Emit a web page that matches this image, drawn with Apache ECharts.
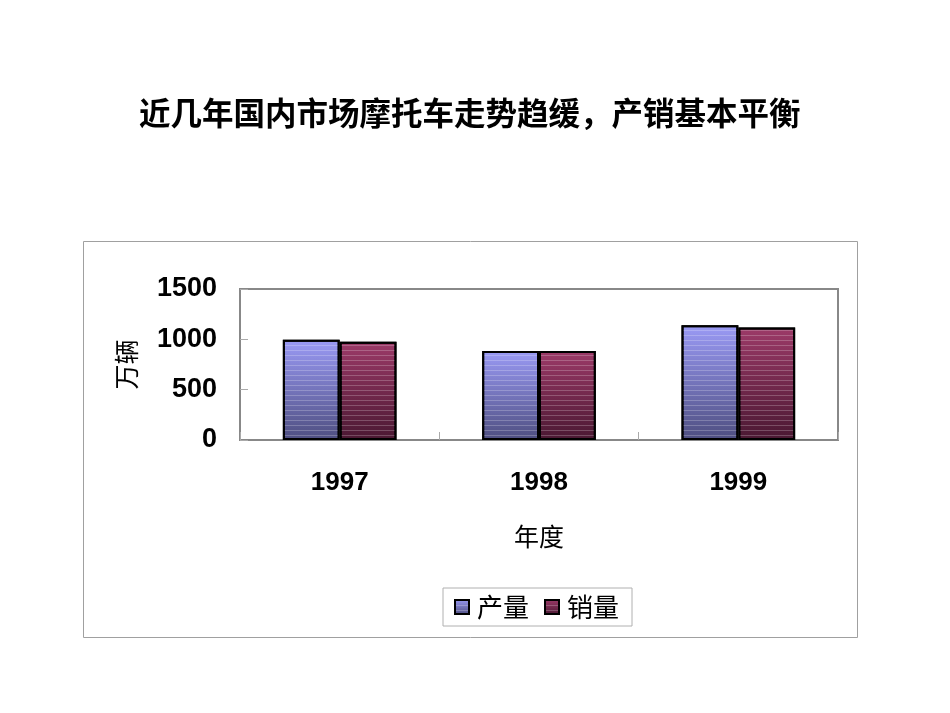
<!DOCTYPE html>
<html><head><meta charset="utf-8">
<script src="https://cdn.jsdelivr.net/npm/echarts@6/dist/echarts.min.js"></script>
<style>html,body{margin:0;padding:0;background:#fff}#c{width:950px;height:713px}</style>
</head><body><div id="c"></div>
<script>
const categories = ['1997', '1998', '1999'];
const production = [995, 884, 1140];
const sales = [975, 884, 1118];
const yTicks = [0, 500, 1000, 1500];

const chart = echarts.init(document.getElementById('c'));
const lin = (a, b) => new echarts.graphic.LinearGradient(0, 0, 0, 1, [{offset: 0, color: a}, {offset: 1, color: b}]);
const stripes = {symbol: 'rect', symbolSize: 1, dashArrayX: [[1, 0]], dashArrayY: [1, 4], rotation: 0, color: 'rgba(255,255,255,0.22)'};
chart.setOption({
  animation: false,
  backgroundColor: '#fff',
  title: {
    text: '近几年国内市场摩托车走势趋缓，产销基本平衡',
    left: 134, top: 92,
    textStyle: {fontFamily: 'Noto Sans CJK SC', fontWeight: 'bold', fontSize: 31.5, color: '#000'}
  },
  graphic: [{
    type: 'rect', left: 83, top: 241, z: -1,
    shape: {width: 774, height: 396},
    style: {fill: '#fff', stroke: '#a0a0a0', lineWidth: 1}
  }],
  legend: {
    left: 443, top: 588,
    padding: [6, 13, 6, 11],
    borderColor: '#b0b0b0', borderWidth: 1,
    icon: 'rect',
    itemWidth: 14, itemHeight: 14, itemGap: 15,
    textStyle: {fontFamily: 'Noto Sans CJK SC', fontSize: 26, color: '#000', padding: [0, 0, 0, 3]},
    data: [
      {name: '产量', itemStyle: {color: lin('#9a9af5', '#4e4e80'), borderColor: '#000', borderWidth: 2}},
      {name: '销量', itemStyle: {color: lin('#9c3a68', '#4a1832'), borderColor: '#000', borderWidth: 2}}
    ]
  },
  grid: {left: 240, right: 112, top: 289, bottom: 273, show: true, borderColor: '#888', borderWidth: 2},
  xAxis: {
    type: 'category', data: categories,
    name: '年度', nameLocation: 'middle', nameGap: 84,
    nameTextStyle: {fontFamily: 'Noto Sans CJK SC', fontSize: 25, color: '#000'},
    axisLine: {lineStyle: {color: '#888', width: 2}},
    axisTick: {show: true, inside: true, length: 8, lineStyle: {color: '#aaa'}},
    axisLabel: {margin: 30, fontFamily: 'Liberation Sans', fontWeight: 'bold', fontSize: 26, color: '#000'}
  },
  yAxis: {
    type: 'value', min: yTicks[0], max: yTicks[yTicks.length - 1], interval: 500,
    name: '万辆', nameLocation: 'middle', nameGap: 101,
    nameTextStyle: {fontFamily: 'Noto Sans CJK SC', fontSize: 25, color: '#000'},
    axisLine: {show: true, lineStyle: {color: '#888', width: 2}},
    axisTick: {show: true, inside: true, length: 8, lineStyle: {color: '#aaa'}},
    splitLine: {show: false},
    axisLabel: {margin: 23, fontFamily: 'Liberation Sans', fontWeight: 'bold', fontSize: 27, color: '#000',
      formatter: v => String(v)}
  },
  series: [
    {name: '产量', type: 'bar', data: production, barGap: '0%', barCategoryGap: '43%',
     itemStyle: {color: lin('#9a9af5', '#4e4e80'), borderColor: '#000', borderWidth: 2, decal: stripes}},
    {name: '销量', type: 'bar', data: sales,
     itemStyle: {color: lin('#9c3a68', '#4a1832'), borderColor: '#000', borderWidth: 2, decal: stripes}}
  ]
});
</script></body></html>
